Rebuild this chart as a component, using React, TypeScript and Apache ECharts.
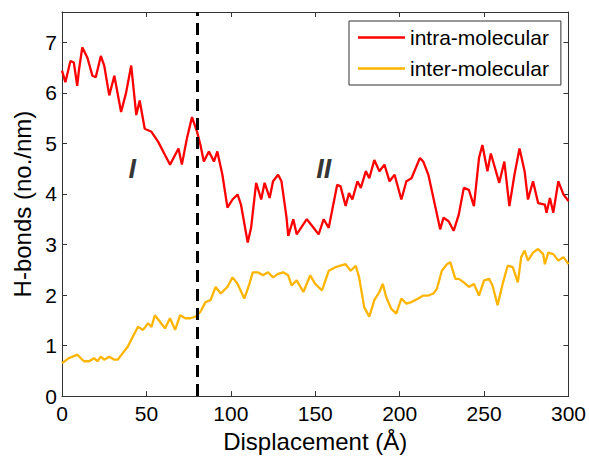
import React, { useEffect, useRef } from "react";
import * as echarts from "echarts";

// ---- data ----
const intraDisp = [0, 2, 5, 7, 9, 10, 12, 15, 18, 20, 23, 25, 28, 31, 35, 38, 41, 44, 46, 49, 53, 57, 61, 64, 69, 71, 74, 77, 80, 82, 84, 87, 90, 92, 95, 98, 101, 104, 106, 110, 112, 115, 118, 120, 123, 125, 128, 130, 133, 134, 137, 139, 145, 149, 152, 155, 158, 163, 165, 168, 170, 172, 175, 177, 180, 182, 185, 188, 191, 194, 197, 201, 204, 207, 212, 214, 217, 220, 224, 226, 229, 232, 235, 238, 241, 244, 247, 249, 252, 254, 259, 262, 265, 268, 271, 274, 276, 279, 282, 286, 287, 289, 291, 294, 297, 300];
const intraHb = [6.44, 6.21, 6.63, 6.6, 6.14, 6.44, 6.9, 6.7, 6.34, 6.31, 6.73, 6.54, 5.95, 6.34, 5.62, 6.01, 6.54, 5.56, 5.85, 5.29, 5.23, 5.03, 4.77, 4.58, 4.9, 4.58, 5.1, 5.52, 5.23, 4.97, 4.64, 4.84, 4.64, 4.84, 4.38, 3.73, 3.89, 3.99, 3.79, 3.04, 3.33, 4.22, 3.89, 4.22, 3.92, 4.25, 4.38, 4.25, 3.53, 3.17, 3.5, 3.2, 3.5, 3.33, 3.2, 3.5, 3.33, 4.18, 4.15, 3.76, 4.02, 3.89, 4.25, 4.12, 4.45, 4.31, 4.67, 4.45, 4.58, 4.25, 4.38, 3.89, 4.25, 4.31, 4.71, 4.64, 4.38, 3.92, 3.3, 3.53, 3.46, 3.27, 3.59, 4.12, 4.08, 3.76, 4.71, 4.97, 4.45, 4.8, 4.22, 4.64, 3.76, 4.38, 4.9, 4.45, 3.89, 4.25, 3.82, 3.79, 3.63, 3.92, 3.63, 4.25, 3.99, 3.86];

const interDisp = [0, 4, 9, 13, 16, 19, 21, 23, 25, 28, 31, 33, 36, 39, 42, 45, 48, 51, 53, 55, 58, 61, 64, 67, 70, 73, 76, 79, 82, 85, 88, 91, 94, 98, 101, 104, 108, 111, 113, 116, 119, 122, 125, 128, 131, 134, 136, 139, 143, 147, 150, 154, 158, 162, 165, 168, 171, 174, 176, 179, 182, 185, 188, 190, 192, 195, 198, 201, 204, 207, 211, 214, 217, 220, 222, 225, 228, 230, 233, 235, 238, 241, 244, 247, 250, 253, 255, 258, 261, 264, 267, 270, 272, 274, 276, 279, 282, 285, 286, 288, 291, 294, 297, 300];
const interHb = [0.65, 0.75, 0.82, 0.69, 0.69, 0.75, 0.69, 0.78, 0.72, 0.78, 0.72, 0.72, 0.85, 0.98, 1.18, 1.37, 1.31, 1.44, 1.37, 1.6, 1.47, 1.34, 1.54, 1.31, 1.6, 1.54, 1.54, 1.57, 1.67, 1.86, 1.9, 2.16, 2.03, 2.16, 2.35, 2.22, 1.93, 2.22, 2.45, 2.45, 2.39, 2.45, 2.35, 2.42, 2.45, 2.39, 2.19, 2.29, 2.06, 2.39, 2.22, 2.09, 2.48, 2.55, 2.58, 2.61, 2.48, 2.58, 2.35, 1.76, 1.57, 1.9, 2.06, 2.22, 1.96, 1.73, 1.63, 1.93, 1.83, 1.86, 1.93, 1.99, 1.99, 2.03, 2.12, 2.48, 2.61, 2.65, 2.32, 2.32, 2.25, 2.16, 2.22, 1.99, 2.29, 2.32, 2.19, 1.8, 2.22, 2.58, 2.55, 2.25, 2.75, 2.88, 2.68, 2.84, 2.91, 2.81, 2.61, 2.84, 2.81, 2.68, 2.75, 2.61];

const seriesNames = ["intra-molecular", "inter-molecular"];
const seriesColors = ["#ff0000", "#ffb400"];
const xRange = [0, 300];
const xStep = 50;
const yRange = [0, 7.6];
const yStep = 1;
const dividerX = 80;
const regionLabels = ["I", "II"];
const regionDisp = [41.6, 155];
const regionHb = [4.5, 4.5];

const FONT = "'Liberation Sans', Arial, Helvetica, sans-serif";
const AXIS_COLOR = "#333";

export default function App() {
  const ref = useRef<HTMLDivElement>(null);

  useEffect(() => {
    if (!ref.current) return;
    const chart = echarts.init(ref.current, null, { renderer: "svg" });

    const intra = intraDisp.map((d, i) => [d, intraHb[i]]);
    const inter = interDisp.map((d, i) => [d, interHb[i]]);
    const regions = regionDisp.map((d, i) => ({ value: [d, regionHb[i]], name: regionLabels[i] }));

    const baseX = {
      type: "value" as const,
      min: xRange[0],
      max: xRange[1],
      interval: xStep,
      splitLine: { show: false },
      axisLine: { show: true, onZero: false, lineStyle: { color: AXIS_COLOR, width: 1 } },
      axisTick: { show: true, inside: true, length: 5, lineStyle: { color: AXIS_COLOR } },
    };
    const baseY = {
      type: "value" as const,
      min: yRange[0],
      max: yRange[1],
      interval: yStep,
      splitLine: { show: false },
      axisLine: { show: true, onZero: false, lineStyle: { color: AXIS_COLOR, width: 1 } },
      axisTick: { show: true, inside: true, length: 5, lineStyle: { color: AXIS_COLOR } },
    };

    chart.setOption({
      animation: false,
      backgroundColor: "#fff",
      grid: { left: 62, right: 20, top: 12, bottom: 58, containLabel: false },
      legend: {
        data: seriesNames,
        orient: "vertical",
        left: 349,
        top: 21,
        padding: [6, 12, 6, 9],
        itemGap: 10,
        itemWidth: 47,
        itemHeight: 2.5,
        icon: "rect",
        backgroundColor: "#fff",
        borderColor: "#333",
        borderWidth: 1,
        borderRadius: 0,
        textStyle: { fontFamily: FONT, fontSize: 21, color: "#000", lineHeight: 20 },
      },
      xAxis: [
        {
          ...baseX,
          position: "bottom",
          name: "Displacement (Å)",
          nameLocation: "middle",
          nameGap: 24,
          nameTextStyle: { fontFamily: FONT, fontSize: 24, color: "#000" },
          axisLabel: { fontFamily: FONT, fontSize: 21, color: "#000", margin: 7 },
        },
        { ...baseX, position: "top", axisLabel: { show: false } },
      ],
      yAxis: [
        {
          ...baseY,
          position: "left",
          name: "H-bonds (no./nm)",
          nameLocation: "middle",
          nameGap: 28,
          nameTextStyle: { fontFamily: FONT, fontSize: 24, color: "#000" },
          axisLabel: {
            fontFamily: FONT,
            fontSize: 21,
            color: "#000",
            margin: 5,
            showMaxLabel: false,
            formatter: (v: number) => (Number.isInteger(v) ? String(v) : ""),
          },
        },
        { ...baseY, position: "right", axisLabel: { show: false } },
      ],
      series: [
        {
          name: seriesNames[0],
          type: "line",
          data: intra,
          showSymbol: false,
          symbol: "none",
          lineStyle: { color: seriesColors[0], width: 2.3 },
          itemStyle: { color: seriesColors[0] },
          z: 3,
          markLine: {
            silent: true,
            symbol: ["none", "none"],
            label: { show: false },
            lineStyle: { color: "#000", type: [12, 7], width: 3 },
            data: [{ xAxis: dividerX }],
            z: 5,
          },
        },
        {
          name: seriesNames[1],
          type: "line",
          data: inter,
          showSymbol: false,
          symbol: "none",
          lineStyle: { color: seriesColors[1], width: 2.3 },
          itemStyle: { color: seriesColors[1] },
          z: 3,
        },
        {
          name: "regions",
          type: "scatter",
          data: regions,
          symbolSize: 0,
          silent: true,
          label: {
            show: true,
            position: "inside",
            formatter: (p: any) => p.name,
            fontFamily: FONT,
            fontSize: 27,
            fontStyle: "italic",
            fontWeight: "bold",
            color: "#000",
          },
        },
      ],
    });

    return () => chart.dispose();
  }, []);

  return (
    <div
      ref={ref}
      style={{ position: "fixed", left: 0, top: 0, width: 589, height: 458 }}
    />
  );
}
